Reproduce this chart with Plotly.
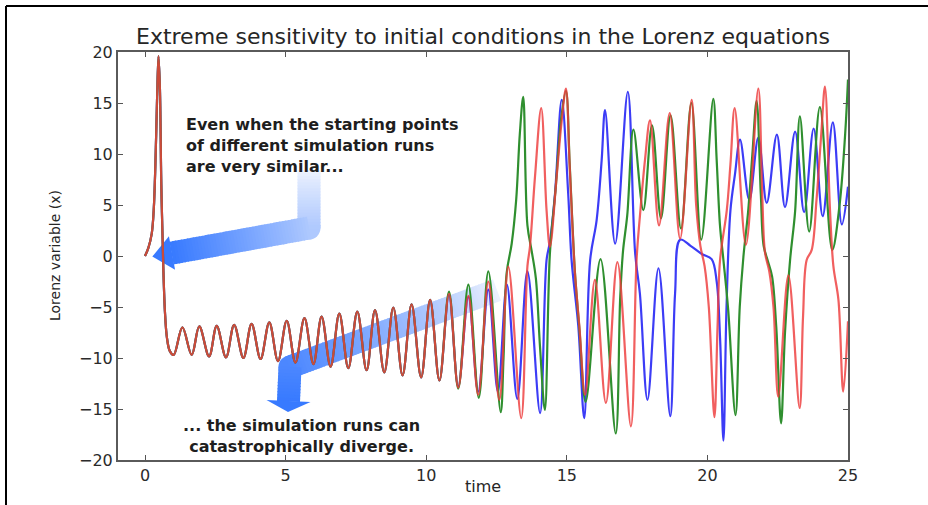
import math
import plotly.graph_objects as go

# ---------------- data ----------------
# shared part of the three runs (they coincide until ~t=10.5)
t_common = [0.00, 0.12, 0.24, 0.31, 0.37, 0.43, 0.48, 0.53, 0.58, 0.65, 0.71, 0.78, 0.88, 1.02,
            1.33, 1.66, 1.93, 2.28, 2.55, 2.88, 3.17, 3.50, 3.79, 4.11, 4.42, 4.73, 5.04, 5.35,
            5.67, 5.99, 6.28, 6.60, 6.91, 7.23, 7.55, 7.88, 8.18, 8.51, 8.83, 9.16, 9.48, 9.82,
            10.14, 10.47]
x_common = [0.0, 0.8, 2.2, 4.5, 9.0, 15.5, 19.6, 16.5, 7.0, -1.0, -5.5, -8.0, -9.3, -9.7,
            -7.0, -9.7, -6.9, -9.85, -6.85, -9.95, -6.75, -10.0, -6.65, -10.1, -6.5, -10.3, -6.35, -10.45,
            -6.1, -10.6, -5.95, -10.85, -5.65, -11.0, -5.45, -11.2, -5.3, -11.4, -5.05, -11.7, -4.75, -11.9,
            -4.3, -12.2]

# run 1 (blue) after divergence
t_blue = [10.81, 11.14, 11.50, 11.85, 12.21, 12.55, 12.87, 13.24, 13.60, 14.05, 14.28, 14.40, 14.58,
          14.82, 15.05, 15.17, 15.41, 15.62, 15.83, 16.06, 16.24, 16.36, 16.72, 17.17, 17.43, 17.60,
          17.87, 18.26, 18.68, 18.85, 19.03, 19.40, 19.80, 20.15, 20.33, 20.45, 20.57, 20.68, 20.82,
          20.98, 21.16, 21.49, 21.81, 22.11, 22.47, 22.76, 23.12, 23.44, 23.78, 24.10, 24.46, 24.78, 25.00]
x_blue = [-3.8, -12.8, -4.0, -13.3, -3.3, -13.3, -2.8, -14.0, -1.5, -15.4, -0.4, 1.4, 6.1,
          15.3, 6.1, -0.4, -6.9, -15.9, -0.4, 3.5, 9.4, 14.3, 1.2, 16.1, 0.3, -3.7,
          -14.1, -1.2, -15.7, -3.7, 1.6, 1.0, 0.2, -0.3, -2.5, -8.0, -18.1, -5.0, 4.5,
          8.0, 11.4, 5.5, 11.6, 5.2, 11.9, 4.8, 12.2, 4.3, 12.5, 3.9, 13.1, 3.1, 6.8]

# run 2 (green)
t_green = [10.81, 11.14, 11.50, 11.87, 12.21, 12.65, 12.75, 12.86, 13.04, 13.20, 13.33, 13.45, 13.60,
           13.75, 13.90, 14.05, 14.22, 14.40, 14.60, 14.80, 14.97, 15.10, 15.20, 15.29, 15.45, 15.67,
           16.20, 16.74, 16.90, 17.00, 17.15, 17.37, 17.72, 18.03, 18.35, 18.69, 19.06, 19.43, 19.78,
           20.21, 20.33, 20.45, 20.57, 20.74, 21.00, 21.15, 21.28, 21.45, 21.60, 21.75, 21.90, 22.00,
           22.15, 22.30, 22.45, 22.62, 22.76, 22.94, 23.12, 23.29, 23.62, 24.00, 24.44, 24.70, 24.90, 25.00]
x_green = [-3.5, -13.0, -2.8, -13.9, -1.5, -15.3, -10.0, -1.7, 1.2, 5.5, 12.0, 15.6, 3.0,
           0.5, -2.2, -9.0, -15.1, 0.3, 6.5, 13.5, 16.2, 9.2, 3.2, -1.6, -7.2, -14.3,
           -0.3, -17.4, -4.0, 0.5, 4.0, 12.4, 4.5, 12.8, 3.7, 13.8, 2.7, 15.0, 1.6,
           15.4, 9.4, 2.9, -0.4, -5.3, -15.6, -5.0, -0.1, 4.4, 10.0, 15.2, 6.0, 1.0,
           -0.5, -2.0, -7.0, -16.4, -7.5, -0.4, 4.4, 13.7, 2.4, 14.6, 0.6, 5.0, 12.0, 17.3]

# run 3 (red)
t_red = [10.81, 11.14, 11.50, 11.85, 12.21, 12.60, 12.92, 13.38, 13.60, 13.69, 13.87, 14.09, 14.28,
         14.40, 14.64, 14.82, 14.97, 15.10, 15.20, 15.29, 15.45, 15.65, 16.00, 16.39, 16.80, 17.28,
         17.48, 17.60, 17.78, 17.96, 18.28, 18.66, 19.03, 19.44, 19.60, 19.75, 19.90, 20.05, 20.25,
         20.36, 20.45, 20.69, 20.82, 20.97, 21.37, 21.81, 21.95, 22.05, 22.20, 22.35, 22.52, 22.88,
         23.28, 23.40, 23.53, 23.71, 23.88, 24.05, 24.18, 24.36, 24.48, 24.66, 24.83, 25.00]
x_red = [-3.7, -12.9, -3.9, -13.6, -2.5, -14.1, -1.05, -15.9, -1.0, 0.9, 7.8, 14.5, 4.5,
         0.9, 7.8, 13.3, 16.4, 9.0, 3.0, -1.7, -7.0, -13.6, -2.35, -14.4, -0.6, -16.7,
         -0.4, 3.9, 9.4, 13.3, 3.0, 14.0, 1.7, 15.3, 5.0, 1.0, -1.0, -5.0, -15.8,
         -7.0, -0.4, 4.5, 9.0, 14.5, 1.1, 16.4, 6.0, 0.3, -1.5, -5.0, -13.8, -1.9,
         -14.9, -6.0, -0.4, 0.6, 5.5, 12.0, 16.6, 4.5, -1.0, -4.3, -13.3, -6.4]

x_ticks = [0, 5, 10, 15, 20, 25]
y_ticks = [-20, -15, -10, -5, 0, 5, 10, 15, 20]

title_text = "Extreme sensitivity to initial conditions in the Lorenz equations"
note_top = ["Even when the starting points", "of different simulation runs", "are very similar..."]
note_bottom = ["... the simulation runs can", "catastrophically diverge."]

# ---------------- layout geometry (pixels) ----------------
W, H = 928, 505
ML, MR, MT, MB = 118, 80, 52, 45
PW, PH = W - ML - MR, H - MT - MB


def pxx(x):
    return (x - ML) / PW


def pxy(y):
    return (H - MB - y) / PH


fig = go.Figure()
series = [("#3c3cf6", 1.0, t_blue, x_blue), ("#2f8f2f", 1.0, t_green, x_green),
          ("#ee3c3c", 0.82, t_red, x_red)]
for color, op, tt, xx in series:
    fig.add_trace(go.Scatter(x=t_common + tt, y=x_common + xx, mode="lines", opacity=op,
                             line=dict(color=color, width=2.2, shape="spline", smoothing=1.0),
                             hoverinfo="skip", showlegend=False))


# ---------------- gradient arrows ----------------
def poly_path(pts):
    return "M " + " L ".join("%.5f,%.5f" % (pxx(x), pxy(y)) for x, y in pts) + " Z"


def arrow_shapes(pts, width, head_len, head_w, c0, c1, gamma, step=3.0):
    segs = []
    total = 0.0
    for (x0, y0), (x1, y1) in zip(pts[:-1], pts[1:]):
        l = math.hypot(x1 - x0, y1 - y0)
        segs.append((x0, y0, x1, y1, l, total))
        total += l

    def col(f):
        f = max(0.0, min(1.0, f)) ** gamma
        return "rgb(%d,%d,%d)" % tuple(round(a + (b - a) * f) for a, b in zip(c0, c1))

    shapes = []
    hw = width / 2.0
    for (x0, y0, x1, y1, l, s0) in segs[1:]:
        c = col(s0 / total)
        shapes.append(dict(type="circle", xref="paper", yref="paper", layer="below",
                           x0=pxx(x0 - hw), x1=pxx(x0 + hw), y0=pxy(y0 + hw), y1=pxy(y0 - hw),
                           fillcolor=c, line=dict(width=0)))
    for (x0, y0, x1, y1, l, s0) in segs:
        ux, uy = (x1 - x0) / l, (y1 - y0) / l
        nx, ny = -uy, ux
        n = max(1, int(l / step))
        for i in range(n):
            a = i * l / n
            b = min(l + 0.5, (i + 1) * l / n + 1.0)
            ax_, ay_ = x0 + ux * a, y0 + uy * a
            bx_, by_ = x0 + ux * b, y0 + uy * b
            quad = [(ax_ + nx * hw, ay_ + ny * hw), (bx_ + nx * hw, by_ + ny * hw),
                    (bx_ - nx * hw, by_ - ny * hw), (ax_ - nx * hw, ay_ - ny * hw)]
            f = (s0 + (a + b) / 2.0) / total
            shapes.append(dict(type="path", xref="paper", yref="paper", layer="below",
                               path=poly_path(quad), fillcolor=col(f), line=dict(width=0)))
    x0, y0, x1, y1, l, s0 = segs[-1]
    ux, uy = (x1 - x0) / l, (y1 - y0) / l
    nx, ny = -uy, ux
    tri = [(x1 + nx * head_w / 2, y1 + ny * head_w / 2), (x1 + ux * head_len, y1 + uy * head_len),
           (x1 - nx * head_w / 2, y1 - ny * head_w / 2)]
    shapes.append(dict(type="path", xref="paper", yref="paper", layer="below",
                       path=poly_path(tri), fillcolor=col(1.0), line=dict(width=0)))
    return shapes


light = (240, 244, 254)
strong = (56, 122, 255)
shapes = []
shapes += arrow_shapes([(309, 170), (309, 228), (172, 253)], 23, 20, 34, light, strong, 0.85)
shapes += arrow_shapes([(497, 290), (290, 367), (288.5, 401)], 23, 11, 44, light, strong, 0.8)

# outer frame lines of the image (left and top)
shapes.append(dict(type="line", xref="paper", yref="paper", x0=pxx(6), x1=pxx(W), y0=pxy(6), y1=pxy(6),
                   line=dict(color="black", width=2)))
shapes.append(dict(type="line", xref="paper", yref="paper", x0=pxx(6), x1=pxx(6), y0=pxy(6), y1=pxy(H),
                   line=dict(color="black", width=2)))

# ---------------- text ----------------
annotations = []
annotations.append(dict(text=title_text, xref="paper", yref="paper", x=pxx(483), y=pxy(37),
                        xanchor="center", yanchor="middle", showarrow=False,
                        font=dict(family="DejaVu Sans", size=22, color="#262626")))
annotations.append(dict(text="<br>".join("<b>%s</b>" % s for s in note_top), xref="paper", yref="paper",
                        x=pxx(184), y=pxy(145), xanchor="left", yanchor="middle", align="left",
                        showarrow=False, font=dict(family="DejaVu Sans", size=16, color="#1e1e1e")))
annotations.append(dict(text="<br>".join("<b>%s</b>" % s for s in note_bottom), xref="paper", yref="paper",
                        x=pxx(301), y=pxy(436), xanchor="center", yanchor="middle", align="center",
                        showarrow=False, font=dict(family="DejaVu Sans", size=16, color="#1e1e1e")))
annotations.append(dict(text="time", xref="paper", yref="paper", x=pxx(483), y=pxy(486),
                        xanchor="center", yanchor="middle", showarrow=False,
                        font=dict(family="DejaVu Sans", size=16, color="#262626")))
annotations.append(dict(text="Lorenz variable (x)", xref="paper", yref="paper", x=pxx(55), y=pxy(255),
                        xanchor="center", yanchor="middle", showarrow=False, textangle=-90,
                        font=dict(family="DejaVu Sans", size=14, color="#262626")))

fig.update_layout(width=W, height=H, margin=dict(l=ML, r=MR, t=MT, b=MB),
                  paper_bgcolor="white", plot_bgcolor="white", showlegend=False,
                  font=dict(family="DejaVu Sans", color="#2a2a2a"),
                  shapes=shapes, annotations=annotations)
axis_common = dict(ticks="inside", ticklen=5, tickwidth=1, tickcolor="#555555", showline=True,
                   linecolor="#5a5a5a", linewidth=2, mirror="ticks", showgrid=False, zeroline=False,
                   tickfont=dict(family="DejaVu Sans", size=16, color="#2a2a2a"))
fig.update_xaxes(range=[-0.96, 25], tickvals=x_ticks, **axis_common)
fig.update_yaxes(range=[-20, 20], tickvals=y_ticks, **axis_common)

fig.write_html("out.html")
